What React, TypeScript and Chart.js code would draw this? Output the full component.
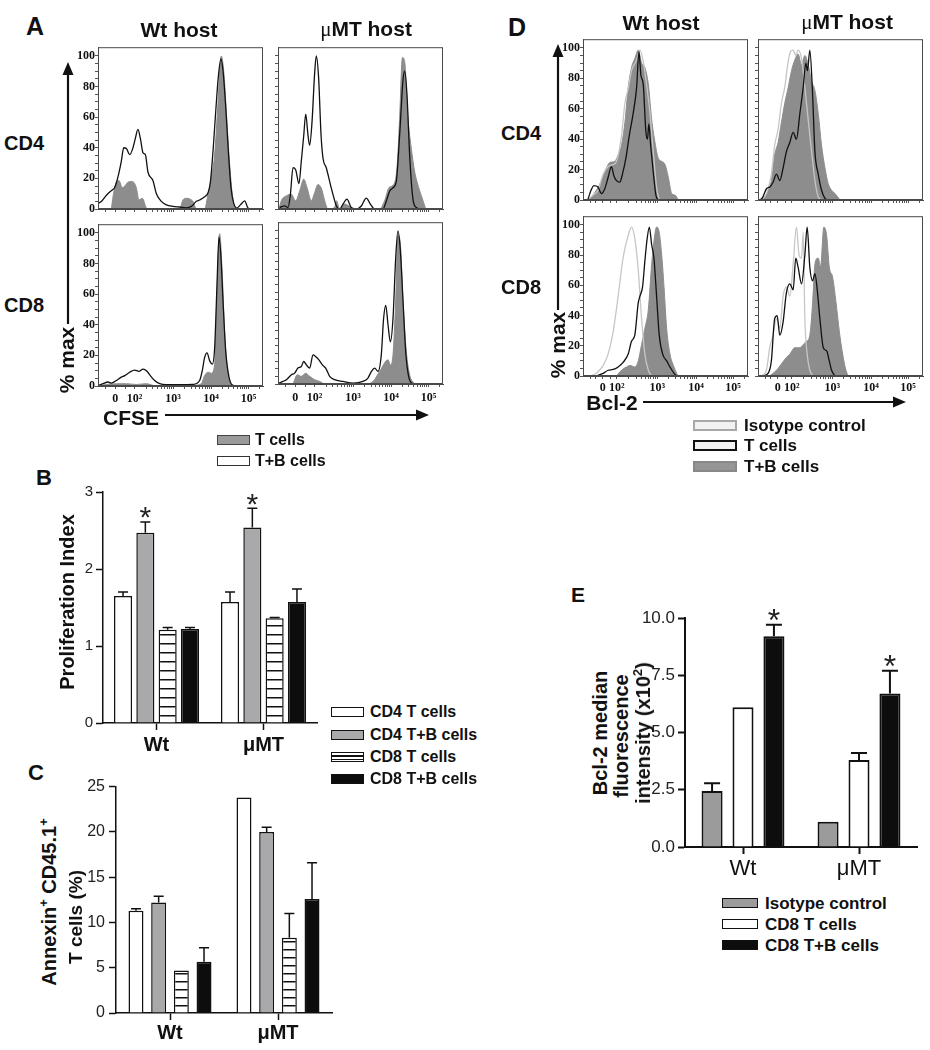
import React, { useEffect, useRef } from 'react';
import { Chart, registerables } from 'chart.js';

Chart.register(...registerables);

const SANS = '"Liberation Sans", Arial, Helvetica, sans-serif';
const SERIF = '"Liberation Serif", "Times New Roman", serif';
const INK = '#111';

// ---------------- Histogram axes (display channel 0-100, % of max) ----------------
const cfseTicks = [10.5, 22.2, 45.5, 68.5, 91.2];
const bcl2Ticks = [12, 20.5, 45, 68.5, 91];
const logLabels = ['0', '10²', '10³', '10⁴', '10⁵'];
const pctMajor = [0, 20, 40, 60, 80, 100];

// ---------------- Panel A: CFSE (gray = T cells, black line = T+B cells) ----------------
const aWtCd4T: [number, number][] = [[8.1,0],[9.1,8],[11.1,17.5],[12.7,18.6],[14.7,14],[16.2,15],[18.2,17.5],[20.8,18],[23.2,14],[24.8,6],[26.9,7],[29.3,0.6],[30.3,0],[49.5,0],[51.5,6],[53.5,7],[55.6,6.6],[57.6,4.9],[59.6,0],[64.6,0],[66.7,10],[68.7,20.7],[70.7,35.5],[72.7,69],[74.7,100],[76.2,90],[77.8,63],[79.8,29],[81.8,6],[83.4,0]];
const aWtCd4TB: [number, number][] = [[0.4,3.8],[2,4.9],[5.1,9],[8.1,12],[10.1,14],[12.1,21],[14.1,31],[15.6,40],[17.2,39.5],[19.2,35.5],[21.2,40],[22.6,46],[24.2,52],[25.7,46],[27.3,36.6],[28.7,35.5],[30.3,24],[33.3,18.6],[35.4,10],[38.4,5],[41.4,2.7],[45.5,1.7],[49.5,1.3],[53.5,0.8],[56.6,1.7],[59.6,5],[61.6,5.9],[64.6,8],[66.7,10.6],[68.1,17.5],[69.7,37.6],[71.3,63],[72.9,86],[74.5,98],[75.8,90],[77.4,67],[79,37.6],[80.6,14],[82.2,4],[84.2,0.6],[86.3,2.7],[88.9,5.3],[90.9,0.6],[92.9,0]];
const aMtCd4T: [number, number][] = [[0.6,0],[2,5.4],[5.1,8.6],[8.1,9.6],[10.7,5.4],[13.1,11.8],[15.6,19.5],[17.6,14],[20.2,5.4],[22.2,10.7],[24.2,16],[26.3,13.5],[28.3,5.4],[30.3,0],[34.3,1],[35.4,5.4],[37.4,0],[40.4,3.2],[43,2],[45.5,0],[61.6,0],[64.6,5.4],[67.3,14],[69.7,15.6],[72.1,26.8],[73.7,59],[75.4,99],[76.8,96],[78.8,59],[80.8,39.6],[82.8,24.6],[85.9,11.8],[87.9,5.4],[89.5,0]];
const aMtCd4TB: [number, number][] = [[1,1],[4,2],[6.1,1],[7.5,9.4],[9.1,27],[10.7,25.7],[12.7,16.5],[14.1,31],[15.6,48],[16.8,62],[18.2,48],[19.2,41.7],[20.6,56.6],[22.2,88.6],[23.2,100],[24.6,86],[26.1,48],[27.3,33],[29.3,26.8],[31.3,18],[33.3,9.6],[35.4,2],[37.4,0],[39.4,3.2],[41.8,6.4],[44.4,1],[47.5,0],[50.5,2],[53.5,7.1],[56,3.2],[58.6,0],[63.6,0],[65.7,5.4],[67.7,11.8],[69.7,13.9],[71.7,18.2],[73.7,48],[75.8,84.6],[76.8,90],[78.2,74],[79.8,35],[81.8,6.4],[83.8,1],[86.3,0]];
const aWtCd8T: [number, number][] = [[1,0],[5.1,1],[17.2,1.5],[23.2,1],[29.3,1.5],[35.4,0],[45.5,0.4],[57.6,0.4],[62.6,1.5],[64.6,6.8],[66.7,9],[68.7,8.3],[70.7,14.3],[72.1,61],[73.7,99.5],[75.2,76],[76.8,33.5],[78.8,7.9],[80.8,0]];
const aWtCd8TB: [number, number][] = [[0.4,0.4],[3,1.5],[6.1,2.6],[8.1,1.9],[11.1,3.6],[14.1,5.8],[16.2,6.8],[19.2,9],[22.2,10.4],[24.8,9.6],[27.3,11],[29.7,9.6],[31.7,6.8],[34.3,3.6],[37.4,1.5],[41.4,0.9],[49.5,0.9],[57.6,1.1],[61.6,3.6],[63.2,10],[64.6,18.5],[66.1,21.7],[67.7,16.4],[69.3,14.3],[70.7,25],[72.1,65.5],[73.3,97.4],[74.5,84.6],[75.8,54.8],[77.4,22.8],[79.4,5.8],[81.8,0.4],[85.9,0]];
const aMtCd8T: [number, number][] = [[9.1,0],[11.7,6],[14.1,5],[16.8,7],[19.2,5],[22.2,2.8],[25.3,1.7],[28.3,0],[53.5,0],[57.6,1.7],[61.6,8.2],[66.7,15.8],[68.1,12.5],[69.7,19],[71.3,53.6],[72.7,96.8],[74.1,92.4],[75.8,53.6],[77.8,21],[79.8,6],[82.8,0]];
const aMtCd8TB: [number, number][] = [[0.6,0.6],[3,1.7],[5.1,2.8],[8.1,6],[10.1,7.1],[12.1,10.4],[14.1,11.4],[15.6,14.7],[17.2,12.5],[19.2,10.4],[21.2,19],[22.8,18],[24.8,15.8],[26.9,12.5],[28.9,10.4],[31.3,5],[34.3,2.8],[39.4,1.7],[45.5,0.6],[51.5,1.7],[54.5,3.9],[56.6,8.2],[58.6,10.4],[60.6,8.2],[62.6,19],[64,42.8],[65.3,51.4],[66.7,38.4],[68.1,27.6],[69.7,42.8],[71.3,81.6],[72.7,100],[74.1,88],[75.8,53.6],[77.4,21],[79.4,3.9],[81.8,0]];

// ---------------- Panel D: Bcl-2 (light = isotype, black = T cells, gray = T+B cells) ----------------
const dWtCd4Iso: [number, number][] = [[3,0],[6.1,3.2],[9.1,6.4],[12.2,17],[15.2,22],[18.3,23.3],[20.3,25.4],[23.3,42],[25.4,63.6],[27.4,73],[29.4,85],[32.5,92],[34.5,98.5],[36.5,91],[38.5,76],[40.6,57],[42.6,31.8],[44.6,8.5],[46.2,0]];
const dWtCd4T: [number, number][] = [[3,0.4],[5.1,7],[6.5,9.5],[9.1,8.5],[11.2,4.2],[13.2,7.4],[15.2,14.8],[17.2,22],[18.7,16],[20.3,12.7],[22.3,11.7],[23.9,17],[26,27.5],[28,42],[30.4,57],[32.5,74],[33.9,97.5],[35.1,82],[36.5,76],[38.1,45],[39.1,40],[39.9,50],[41,36],[42.6,18],[44.2,3],[45.6,0]];
const dWtCd4TB: [number, number][] = [[2,0],[5.1,2.1],[8.1,6.4],[11.2,12.7],[14.2,21],[16.2,24.6],[19.3,25.4],[21.3,29.7],[23.3,36],[25.4,51],[27.4,74],[29.4,87],[31.4,93],[33.5,98.5],[35.5,90],[37.5,87],[39.6,76],[41.6,53],[43.6,38],[45.6,27.5],[47.7,25.4],[49.7,23.3],[51.7,15],[53.8,4.2],[55.8,3.2],[57.8,0]];
const dMtCd4Iso: [number, number][] = [[2,0],[5.1,4.2],[8.1,17],[10.1,36],[12.2,46.6],[14.2,63.6],[16.2,74],[18.3,91],[19.7,97.5],[21.3,98.5],[22.9,95],[24.3,98.5],[26.4,93],[28.4,74],[30.4,53],[32.5,31.8],[34.5,12.7],[36.5,2.1],[38.5,0]];
const dMtCd4T: [number, number][] = [[1.4,0],[3,2.1],[5.1,7.4],[7.1,8.5],[9.1,11.7],[11.2,17],[13.2,12.7],[15.2,21],[17.2,31.8],[19.3,38],[21.3,44.5],[23.3,40],[25.4,57],[27.4,74],[29,90],[30,85],[31.4,98.5],[32.9,74],[34.5,31.8],[36.5,17],[38.5,6.4],[40.6,1],[42,0]];
const dMtCd4TB: [number, number][] = [[2,0],[4.1,2.1],[6.1,6.4],[8.1,12.7],[10.1,29.7],[12.2,38],[14.2,51],[16.2,63.6],[18.3,74],[20.3,85],[22.3,92],[24.3,96],[26.4,89],[28.4,95],[30.4,89],[32.5,78],[34.5,72],[36.5,57],[38.5,36],[40.6,21],[42.6,10.6],[44.6,6.4],[46.7,4.2],[49.7,0]];
const dWtCd8Iso: [number, number][] = [[2,0],[6.1,0.6],[9.1,2.8],[12.2,7],[15.2,14.5],[18.3,29.4],[21.3,52.8],[24.3,78.3],[27.4,93],[29.4,98.5],[31.4,91],[33.5,70],[35.5,38],[37.5,14.5],[39.6,3.8],[41.6,0]];
const dWtCd8T: [number, number][] = [[8.1,0],[12.2,1.7],[15.2,3.8],[18.3,4.3],[21.3,6],[24.3,9],[27.4,14.5],[29.4,23],[31.4,27],[33.5,48.5],[34.5,52.8],[36.1,59],[37.5,76],[38.9,91],[40.2,98.5],[41.6,87],[43,78],[44.6,52.8],[46.2,27],[48.3,14.5],[50.7,10],[52.7,6],[55.2,1.7],[56.8,0]];
const dWtCd8TB: [number, number][] = [[20.3,0],[23.3,3.8],[26.4,6],[28.4,7],[31.4,6],[33.5,10],[35.5,20.8],[37.5,31.5],[39.6,44],[41.6,74],[43.2,91],[44.6,98.5],[46.2,95],[47.7,80],[49.1,59],[50.7,31.5],[52.7,14.5],[54.8,7],[56.8,1.7],[57.8,0]];
const dMtCd8Iso: [number, number][] = [[2,0],[5.1,3.8],[7.1,18.7],[9.1,27],[11.2,38],[13.2,31.5],[15.2,52.8],[17.2,59],[19.3,52.8],[21.3,74],[23.3,98.5],[24.9,80],[26.4,78],[27.4,95],[28.4,38],[29.8,14.5],[31.4,3.8],[33.5,0]];
const dMtCd8T: [number, number][] = [[3,0],[6.1,1.7],[8.1,10],[10.1,38],[11.6,40],[13.2,27],[15.2,35.7],[17.2,55],[19.3,61],[21.3,57],[22.9,78],[24.3,72],[26.4,61],[28.4,80],[29.8,98.5],[31.4,72],[33.1,63],[34.5,67.7],[35.9,57],[37.5,38],[39.6,18.7],[41.6,16.6],[43.2,10],[44.6,3.8],[46.7,0]];
const dMtCd8TB: [number, number][] = [[7.1,0],[11.2,3.8],[14.2,8],[17.2,12.3],[19.3,14.5],[22.3,18.7],[25.4,18.7],[27.4,20.8],[29.4,23],[31.4,27],[33.1,48.5],[34.5,74],[36.5,78],[37.9,72],[39.9,98.5],[41.6,93],[43.2,72],[45.2,65.5],[47.3,48.5],[49.3,29.4],[51.3,14.5],[53.3,3.8],[54.8,0]];

// ---------------- Bar panels ----------------
const groups = ['Wt', 'μMT'];
// B: proliferation index
const bCd4T = [1.65, 1.57];  const bCd4TErr = [0.05, 0.13];
const bCd4TB = [2.47, 2.54]; const bCd4TBErr = [0.14, 0.25];
const bCd8T = [1.21, 1.36];  const bCd8TErr = [0.03, 0.01];
const bCd8TB = [1.22, 1.57]; const bCd8TBErr = [0.02, 0.17];
const bStars = [true, true];
// C: Annexin+ CD45.1+ T cells (%)
const cCd4T = [11.3, 23.8];  const cCd4TErr = [0.2, 0];
const cCd4TB = [12.2, 20.0]; const cCd4TBErr = [0.7, 0.5];
const cCd8T = [4.7, 8.3];    const cCd8TErr = [0, 2.7];
const cCd8TB = [5.65, 12.6]; const cCd8TBErr = [1.55, 4.0];
// E: Bcl-2 MFI (x10^2)
const eIso = [2.45, 1.1];    const eIsoErr = [0.33, 0];
const eCd8T = [6.1, 3.8];    const eCd8TErr = [0, 0.3];
const eCd8TB = [9.2, 6.7];   const eCd8TBErr = [0.5, 1.0];
const eStars = [true, true];

// ---------------- helpers ----------------
function logicleMinor(p: number[]) {
  const out: number[] = [];
  const d0 = p[1] - p[0];
  out.push(p[0] - d0 * 0.9, p[0] - d0 * 0.5, p[0] + d0 * 0.55);
  for (let i = 1; i < p.length - 1; i++)
    for (let k = 2; k <= 9; k++) out.push(p[i] + Math.log10(k) * (p[i + 1] - p[i]));
  const n = p.length - 1;
  const dl = p[n] - p[n - 1];
  for (let k = 2; k <= 9; k++) out.push(p[n] + Math.log10(k) * dl);
  return out.filter((v) => v > 0.5 && v < 99.5);
}

const boxPlugin = {
  id: 'frameBox',
  afterDraw(chart: any) {
    const { ctx, chartArea: a } = chart;
    ctx.save();
    ctx.strokeStyle = '#4a4a4a';
    ctx.lineWidth = 1;
    ctx.strokeRect(a.left + 0.5, a.top + 0.5, a.right - a.left - 1, a.bottom - a.top - 1);
    ctx.restore();
  },
};

const curveStyle: any = {
  fill: { borderColor: '#8d8d8d', backgroundColor: '#8d8d8d', borderWidth: 1, fill: 'origin', order: 3 },
  iso: { borderColor: '#c6c6c6', borderWidth: 1.3, fill: false, order: 2 },
  line: { borderColor: INK, borderWidth: 1.3, fill: false, order: 1 },
};

function Histogram({ box, curves, ticks, showY, showX, xPad }: any) {
  const ref = useRef<HTMLCanvasElement>(null);
  const WY = 34, HX = 22, PT = 3, PR = 3;
  const cw = WY + box.w + PR;
  const chH = PT + box.h + HX;
  useEffect(() => {
    const labelMap = new Map<number, string>(ticks.map((v: number, i: number) => [v, logLabels[i]]));
    const xAll = [...ticks, ...logicleMinor(ticks)].sort((a, b) => a - b);
    const yAll: number[] = [];
    for (let v = 0; v <= 100; v += 5) yAll.push(v);
    const chart = new Chart(ref.current as HTMLCanvasElement, {
      type: 'line',
      data: {
        datasets: curves.map((c: any) => ({
          data: c.pts.map(([x, y]: [number, number]) => ({ x, y })),
          pointRadius: 0,
          cubicInterpolationMode: 'monotone',
          ...curveStyle[c.kind],
        })),
      },
      options: {
        responsive: false,
        animation: false,
        events: [],
        layout: { padding: { top: PT, right: PR, left: 0, bottom: 0 } },
        plugins: { legend: { display: false }, tooltip: { enabled: false } },
        scales: {
          x: {
            type: 'linear', min: 0, max: 100,
            afterBuildTicks: (s: any) => { s.ticks = xAll.map((value) => ({ value })); },
            afterFit: (s: any) => { s.height = HX; },
            ticks: {
              autoSkip: false, maxRotation: 0, minRotation: 0, padding: xPad, color: INK,
              font: { family: SERIF, size: 12, weight: 'bold' },
              callback: (v: any) => (showX ? labelMap.get(v) ?? '' : ''),
            },
            grid: { display: true, drawOnChartArea: false, drawTicks: true, tickLength: 3, tickColor: '#555', tickWidth: 1 },
            border: { display: true, color: '#4a4a4a', width: 1 },
          },
          y: {
            type: 'linear', min: 0, max: 105.7,
            afterBuildTicks: (s: any) => { s.ticks = yAll.map((value) => ({ value })); },
            afterFit: (s: any) => { s.width = WY; },
            ticks: {
              autoSkip: false, padding: 0, color: INK,
              font: { family: SERIF, size: 12, weight: 'bold' },
              callback: (v: any) => (showY && pctMajor.includes(v) ? String(v) : ''),
            },
            grid: { display: true, drawOnChartArea: false, drawTicks: true, tickLength: 3, tickColor: '#555', tickWidth: 1 },
            border: { display: true, color: '#4a4a4a', width: 1 },
          },
        },
      } as any,
      plugins: [boxPlugin],
    });
    return () => chart.destroy();
  }, []);
  return (
    <canvas ref={ref} width={cw} height={chH}
      style={{ position: 'absolute', left: box.x - WY, top: box.y - PT, width: cw, height: chH }} />
  );
}

function makeHatch(period: number) {
  const c = document.createElement('canvas');
  c.width = 4; c.height = period;
  const g = c.getContext('2d') as CanvasRenderingContext2D;
  g.fillStyle = '#fff'; g.fillRect(0, 0, 4, period);
  g.fillStyle = INK; g.fillRect(0, 0, 4, 1.5);
  return g.createPattern(c, 'repeat');
}

const errorBarPlugin = {
  id: 'errBars',
  afterDatasetsDraw(chart: any, _a: any, o: any) {
    const { ctx } = chart;
    const ys = chart.scales.y;
    chart.data.datasets.forEach((ds: any, i: number) => {
      const meta = chart.getDatasetMeta(i);
      meta.data.forEach((bar: any, j: number) => {
        const v = ds.data[j];
        const e = ds.errors ? ds.errors[j] : 0;
        const top = ys.getPixelForValue(v + e);
        ctx.save();
        ctx.strokeStyle = INK;
        ctx.lineWidth = o.lineWidth;
        if (e > 0) {
          ctx.beginPath();
          ctx.moveTo(bar.x, bar.y);
          ctx.lineTo(bar.x, top);
          ctx.moveTo(bar.x - o.cap, top);
          ctx.lineTo(bar.x + o.cap, top);
          ctx.stroke();
        }
        if (ds.stars && ds.stars[j]) {
          ctx.fillStyle = '#222';
          ctx.font = `${o.starSize}px ${SANS}`;
          ctx.textAlign = 'center';
          ctx.textBaseline = 'alphabetic';
          ctx.fillText('*', bar.x, top - o.starGap + 0.58 * o.starSize);
        }
        ctx.restore();
      });
    });
  },
};

function BarChart({ spec }: any) {
  const ref = useRef<HTMLCanvasElement>(null);
  const { area, yW, xH, padT, padR } = spec;
  const cw = yW + (area.r - area.l) + padR;
  const chH = padT + (area.b - area.t) + xH;
  useEffect(() => {
    const hatch = makeHatch(spec.hatch);
    const chart = new Chart(ref.current as HTMLCanvasElement, {
      type: 'bar',
      data: {
        labels: groups,
        datasets: spec.series.map((s: any) => ({
          label: s.label, data: s.values, errors: s.errors, stars: s.stars,
          backgroundColor: s.fill === 'hatch' ? hatch : s.fill,
          borderColor: INK, borderWidth: spec.barBorder,
          categoryPercentage: spec.catPct, barPercentage: spec.barPct,
        })),
      },
      options: {
        responsive: false,
        animation: false,
        events: [],
        layout: { padding: { top: padT, right: padR, left: 0, bottom: 0 } },
        plugins: {
          legend: { display: false }, tooltip: { enabled: false },
          errBars: { lineWidth: spec.errW, cap: spec.cap, starSize: spec.starSize, starGap: spec.starGap },
        },
        scales: {
          x: {
            type: 'category',
            afterFit: (s: any) => { s.height = xH; },
            ticks: { color: INK, padding: spec.xPad, font: { family: SANS, size: spec.xFont, weight: spec.xWeight } },
            grid: { display: true, offset: false, drawOnChartArea: false, drawTicks: true, tickLength: spec.tickLen, tickColor: INK, tickWidth: spec.axisW },
            border: { display: true, color: INK, width: spec.axisW },
          },
          y: {
            type: 'linear', min: spec.yMin, max: spec.yMax,
            afterFit: (s: any) => { s.width = yW; },
            ticks: { stepSize: spec.step, color: '#222', padding: spec.yPad, font: { family: SANS, size: spec.yFont }, callback: spec.fmt },
            grid: { display: true, drawOnChartArea: false, drawTicks: true, tickLength: spec.tickLen, tickColor: INK, tickWidth: spec.axisW },
            border: { display: true, color: INK, width: spec.axisW },
          },
        },
      } as any,
      plugins: [errorBarPlugin],
    });
    return () => chart.destroy();
  }, []);
  return (
    <canvas ref={ref} width={cw} height={chH}
      style={{ position: 'absolute', left: area.l - yW, top: area.t - padT, width: cw, height: chH }} />
  );
}

function Txt({ x, y, size, bold = true, rotate = false, anchor = 'center', family = SANS, children }: any) {
  const tx = anchor === 'left' ? '0' : '-50%';
  return (
    <div style={{
      position: 'absolute', left: x, top: y, fontFamily: family, fontSize: size,
      fontWeight: bold ? 'bold' : 'normal', lineHeight: 1, whiteSpace: 'nowrap', color: INK,
      transform: `translate(${tx}, -50%)${rotate ? ' rotate(-90deg)' : ''}`,
    }}>{children}</div>
  );
}

const Mu = () => <span style={{ fontFamily: SERIF, fontWeight: 'normal' }}>μ</span>;

function Swatch({ x, y, w, h, style }: any) {
  return <div style={{ position: 'absolute', left: x, top: y - h / 2, width: w, height: h, boxSizing: 'border-box', ...style }} />;
}

const hatchCss = 'repeating-linear-gradient(to bottom, #fff 0px, #fff 2.4px, #111 2.4px, #111 3.6px)';
const supStyle = { fontSize: 13, lineHeight: 0, verticalAlign: 'super' } as any;

export default function App() {
  const hists = [
    { box: { x: 98, y: 43, w: 165, h: 166 }, ticks: cfseTicks, showY: true, showX: false, xPad: 3,
      curves: [{ pts: aWtCd4TB, kind: 'line' }, { pts: aWtCd4T, kind: 'fill' }] },
    { box: { x: 278, y: 43, w: 165, h: 166 }, ticks: cfseTicks, showY: false, showX: false, xPad: 3,
      curves: [{ pts: aMtCd4TB, kind: 'line' }, { pts: aMtCd4T, kind: 'fill' }] },
    { box: { x: 98, y: 220, w: 165, h: 166 }, ticks: cfseTicks, showY: true, showX: true, xPad: 3,
      curves: [{ pts: aWtCd8TB, kind: 'line' }, { pts: aWtCd8T, kind: 'fill' }] },
    { box: { x: 278, y: 218, w: 165, h: 166 }, ticks: cfseTicks, showY: false, showX: true, xPad: 4,
      curves: [{ pts: aMtCd8TB, kind: 'line' }, { pts: aMtCd8T, kind: 'fill' }] },
    { box: { x: 583, y: 35, w: 165, h: 165 }, ticks: bcl2Ticks, showY: true, showX: false, xPad: 2,
      curves: [{ pts: dWtCd4T, kind: 'line' }, { pts: dWtCd4Iso, kind: 'iso' }, { pts: dWtCd4TB, kind: 'fill' }] },
    { box: { x: 758, y: 35, w: 165, h: 165 }, ticks: bcl2Ticks, showY: false, showX: false, xPad: 2,
      curves: [{ pts: dMtCd4T, kind: 'line' }, { pts: dMtCd4Iso, kind: 'iso' }, { pts: dMtCd4TB, kind: 'fill' }] },
    { box: { x: 583, y: 212, w: 165, h: 164 }, ticks: bcl2Ticks, showY: true, showX: true, xPad: 2,
      curves: [{ pts: dWtCd8T, kind: 'line' }, { pts: dWtCd8Iso, kind: 'iso' }, { pts: dWtCd8TB, kind: 'fill' }] },
    { box: { x: 758, y: 212, w: 165, h: 164 }, ticks: bcl2Ticks, showY: false, showX: true, xPad: 2,
      curves: [{ pts: dMtCd8T, kind: 'line' }, { pts: dMtCd8Iso, kind: 'iso' }, { pts: dMtCd8TB, kind: 'fill' }] },
  ];

  const specB = {
    area: { l: 103, t: 492, r: 317, b: 723 }, yW: 34, xH: 36, padT: 20, padR: 8,
    yMin: 0, yMax: 3, step: 1, fmt: (v: number) => String(v), yFont: 15, yPad: 3, tickLen: 7,
    xFont: 20, xWeight: 'bold', xPad: 3, catPct: 0.834, barPct: 0.81, axisW: 1.5, barBorder: 1.5,
    cap: 5, errW: 1.5, starSize: 30, starGap: 12, hatch: 9,
    series: [
      { label: 'CD4 T cells', values: bCd4T, errors: bCd4TErr, fill: '#ffffff' },
      { label: 'CD4 T+B cells', values: bCd4TB, errors: bCd4TBErr, fill: '#a9a9ab', stars: bStars },
      { label: 'CD8 T cells', values: bCd8T, errors: bCd8TErr, fill: 'hatch' },
      { label: 'CD8 T+B cells', values: bCd8TB, errors: bCd8TBErr, fill: '#0d0d0d' },
    ],
  };
  const specC = {
    area: { l: 116, t: 783, r: 332, b: 1013 }, yW: 36, xH: 35, padT: 10, padR: 8,
    yMin: 0, yMax: 25, step: 5, fmt: (v: number) => String(v), yFont: 16, yPad: 4, tickLen: 7,
    xFont: 20, xWeight: 'bold', xPad: 1, catPct: 0.84, barPct: 0.66, axisW: 1.5, barBorder: 1.5,
    cap: 5, errW: 1.5, starSize: 30, starGap: 12, hatch: 8,
    series: [
      { label: 'CD4 T cells', values: cCd4T, errors: cCd4TErr, fill: '#ffffff' },
      { label: 'CD4 T+B cells', values: cCd4TB, errors: cCd4TBErr, fill: '#a9a9ab' },
      { label: 'CD8 T cells', values: cCd8T, errors: cCd8TErr, fill: 'hatch' },
      { label: 'CD8 T+B cells', values: cCd8TB, errors: cCd8TBErr, fill: '#0d0d0d' },
    ],
  };
  const specE = {
    area: { l: 685, t: 618, r: 917, b: 847 }, yW: 48, xH: 40, padT: 20, padR: 8,
    yMin: 0, yMax: 10, step: 2.5, fmt: (v: number) => v.toFixed(1), yFont: 17, yPad: 3, tickLen: 7,
    xFont: 22, xWeight: 'normal', xPad: 2, catPct: 0.8, barPct: 0.68, axisW: 2, barBorder: 2,
    cap: 8, errW: 2, starSize: 32, starGap: 12, hatch: 8,
    series: [
      { label: 'Isotype control', values: eIso, errors: eIsoErr, fill: '#9b9b9b' },
      { label: 'CD8 T cells', values: eCd8T, errors: eCd8TErr, fill: '#ffffff' },
      { label: 'CD8 T+B cells', values: eCd8TB, errors: eCd8TBErr, fill: '#0d0d0d', stars: eStars },
    ],
  };

  const arrow = (x1: number, y1: number, x2: number, y2: number) => {
    const dx = x2 - x1, dy = y2 - y1, L = Math.hypot(dx, dy);
    const ux = dx / L, uy = dy / L, hl = 13, hw = 5.5;
    const bx = x2 - ux * hl, by = y2 - uy * hl;
    return (
      <g>
        <line x1={x1} y1={y1} x2={bx} y2={by} stroke={INK} strokeWidth={2.2} />
        <polygon points={`${x2},${y2} ${bx - uy * hw},${by + ux * hw} ${bx + uy * hw},${by - ux * hw}`} fill={INK} />
      </g>
    );
  };

  return (
    <div style={{ position: 'absolute', left: 0, top: 0, width: 930, height: 1050, background: '#fff', overflow: 'hidden' }}>
      <svg width={930} height={1050} style={{ position: 'absolute', left: 0, top: 0 }}>
        {arrow(68, 324, 68, 62)}
        {arrow(165, 415, 429, 415)}
        {arrow(558, 310, 558, 44)}
        {arrow(643, 402, 906, 402)}
      </svg>

      {hists.map((h, i) => <Histogram key={i} {...h} />)}
      <BarChart spec={specB} />
      <BarChart spec={specC} />
      <BarChart spec={specE} />

      {/* panel letters */}
      <Txt x={35} y={26} size={25}>A</Txt>
      <Txt x={517} y={27} size={25}>D</Txt>
      <Txt x={44} y={478} size={22}>B</Txt>
      <Txt x={36} y={773} size={22}>C</Txt>
      <Txt x={578} y={594} size={21}>E</Txt>

      {/* panel A/D headings */}
      <Txt x={179} y={29} size={21}>Wt host</Txt>
      <Txt x={366} y={29} size={21}><Mu />MT host</Txt>
      <Txt x={661} y={22} size={21}>Wt host</Txt>
      <Txt x={847} y={22} size={21}><Mu />MT host</Txt>
      <Txt x={24} y={143} size={20}>CD4</Txt>
      <Txt x={24} y={305} size={20}>CD8</Txt>
      <Txt x={521} y={133} size={20}>CD4</Txt>
      <Txt x={521} y={287} size={20}>CD8</Txt>
      <Txt x={66} y={360} size={21} rotate>% max</Txt>
      <Txt x={557} y={345} size={21} rotate>% max</Txt>
      <Txt x={131} y={417} size={21}>CFSE</Txt>
      <Txt x={612} y={402} size={21}>Bcl-2</Txt>

      {/* legend A */}
      <Swatch x={217} y={440} w={33} h={10} style={{ background: '#9a9a9a', border: '1px solid #444' }} />
      <Txt x={255} y={440} size={16} anchor="left">T cells</Txt>
      <Swatch x={217} y={461} w={33} h={10} style={{ background: '#fff', border: '1px solid #333' }} />
      <Txt x={255} y={461} size={16} anchor="left">T+B cells</Txt>

      {/* legend D */}
      <Swatch x={693} y={425} w={44} h={11} style={{ background: '#f2f2f2', border: '2px solid #a8a8a8' }} />
      <Txt x={744} y={425} size={17} anchor="left">Isotype control</Txt>
      <Swatch x={693} y={445} w={44} h={11} style={{ background: '#f2f2f2', border: '2px solid #111' }} />
      <Txt x={744} y={445} size={17} anchor="left">T cells</Txt>
      <Swatch x={693} y={466} w={44} h={11} style={{ background: '#959595', border: '2px solid #888' }} />
      <Txt x={744} y={466} size={17} anchor="left">T+B cells</Txt>

      {/* axis titles for B, C, E */}
      <Txt x={67} y={602} size={20} rotate>Proliferation Index</Txt>
      <Txt x={49} y={902} size={20} rotate>Annexin<sup style={supStyle}>+</sup> CD45.1<sup style={supStyle}>+</sup></Txt>
      <Txt x={75} y={917} size={19} rotate>T cells (%)</Txt>
      <Txt x={600} y={733} size={20} rotate>Bcl-2 median</Txt>
      <Txt x={621} y={736} size={20} rotate>fluorescence</Txt>
      <Txt x={643} y={733} size={20} rotate>intensity (x10<sup style={supStyle}>2</sup>)</Txt>

      {/* legend B/C */}
      <Swatch x={331} y={712} w={33} h={10} style={{ background: '#fff', border: '1.5px solid #111' }} />
      <Txt x={370} y={712} size={16} anchor="left">CD4 T cells</Txt>
      <Swatch x={331} y={735} w={33} h={10} style={{ background: '#a9a9ab', border: '1.5px solid #111' }} />
      <Txt x={370} y={735} size={16} anchor="left">CD4 T+B cells</Txt>
      <Swatch x={331} y={757} w={33} h={10} style={{ background: hatchCss, border: '1.5px solid #111' }} />
      <Txt x={370} y={757} size={16} anchor="left">CD8 T cells</Txt>
      <Swatch x={331} y={779} w={33} h={10} style={{ background: '#0d0d0d', border: '1.5px solid #111' }} />
      <Txt x={370} y={779} size={16} anchor="left">CD8 T+B cells</Txt>

      {/* legend E */}
      <Swatch x={722} y={903} w={36} h={10} style={{ background: '#9b9b9b', border: '1.5px solid #111' }} />
      <Txt x={765} y={903} size={17} anchor="left">Isotype control</Txt>
      <Swatch x={722} y={924} w={36} h={10} style={{ background: '#fff', border: '1.5px solid #111' }} />
      <Txt x={765} y={924} size={17} anchor="left">CD8 T cells</Txt>
      <Swatch x={722} y={945} w={36} h={10} style={{ background: '#0d0d0d', border: '1.5px solid #111' }} />
      <Txt x={765} y={945} size={17} anchor="left">CD8 T+B cells</Txt>
    </div>
  );
}
